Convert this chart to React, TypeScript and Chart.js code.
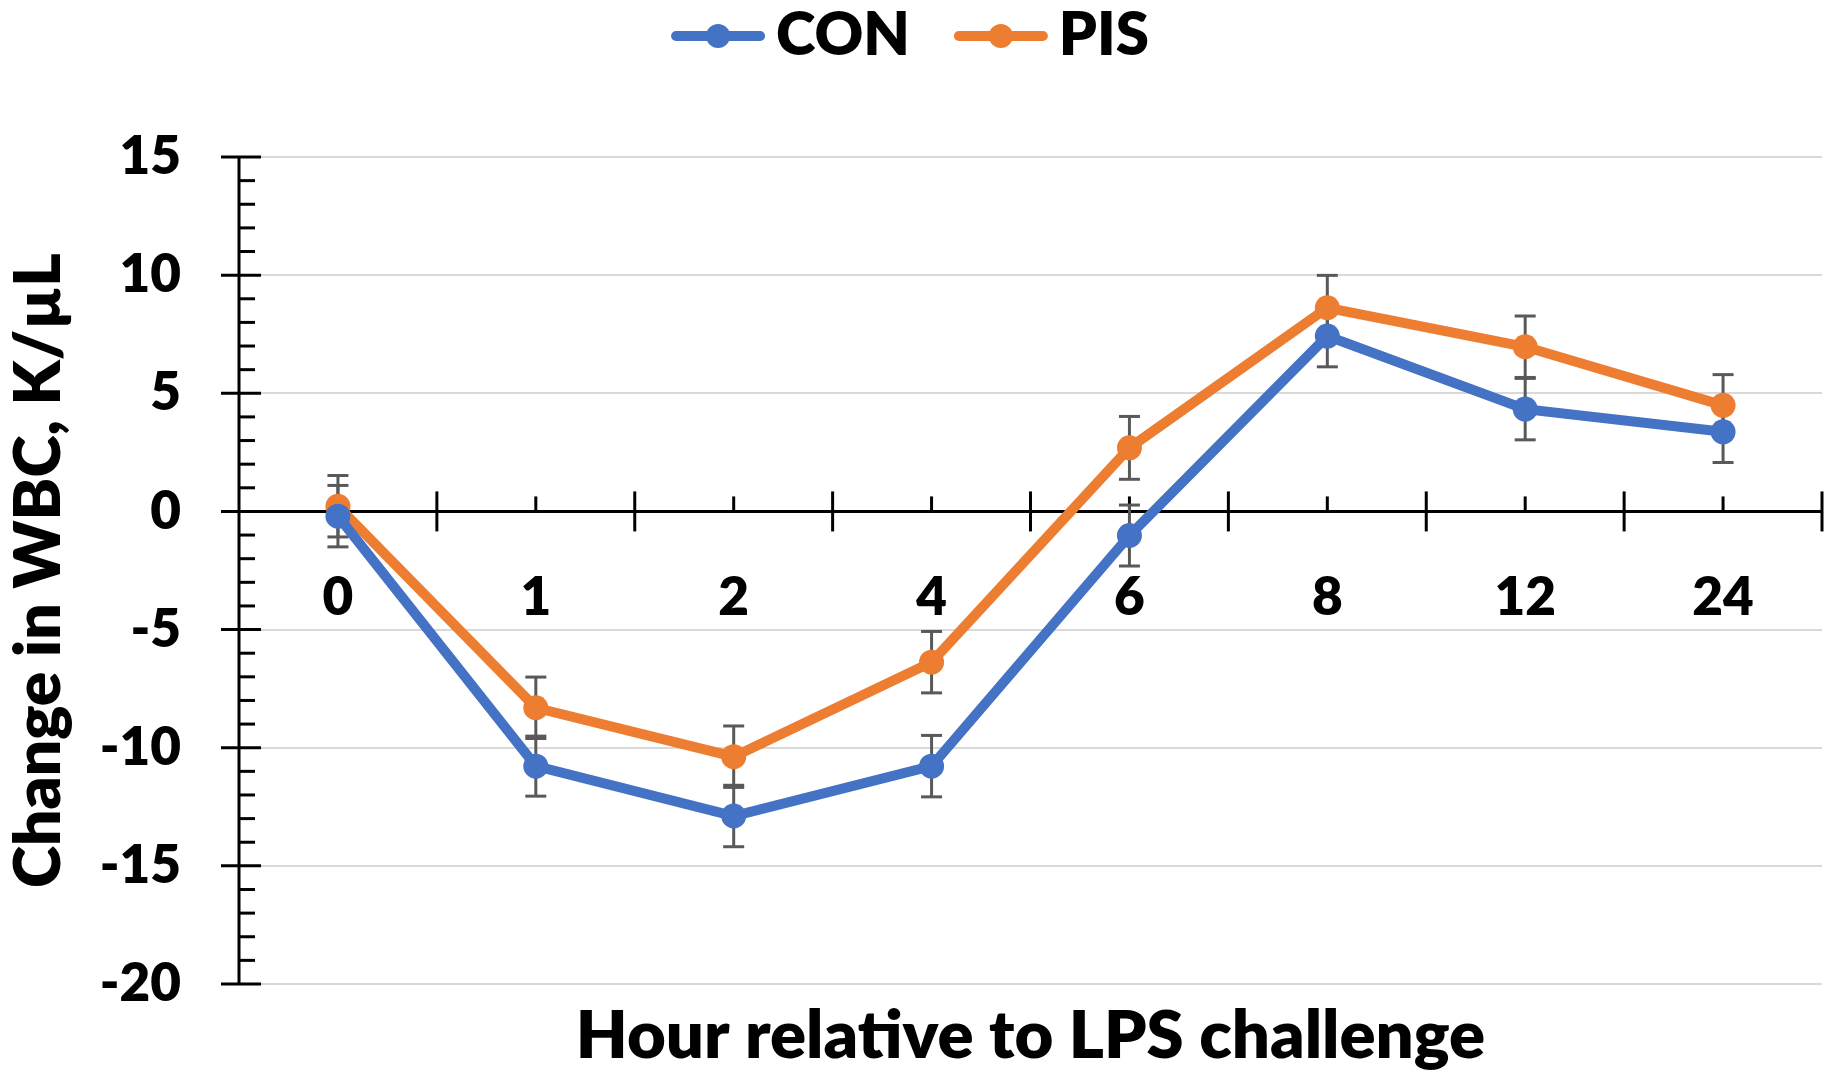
import { useEffect, useRef } from 'react'
import { Chart, registerables } from 'chart.js'

Chart.register(...registerables)

// hours after the LPS challenge
const hours = ['0', '1', '2', '4', '6', '8', '12', '24']

// change in WBC, K/µL
const conValues = [-0.2, -10.78, -12.89, -10.78, -1.02, 7.42, 4.33, 3.37]
const pisValues = [0.22, -8.31, -10.38, -6.38, 2.69, 8.62, 6.97, 4.49]

// SEM
const conErrors = [1.3, 1.27, 1.3, 1.3, 1.29, 1.3, 1.3, 1.3]
const pisErrors = [1.3, 1.3, 1.3, 1.3, 1.33, 1.37, 1.3, 1.3]

const Y_MIN = -20
const Y_MAX = 15

const BLUE = '#4472C4'
const ORANGE = '#ED7D31'
const FONT = 'Lato'
const WEIGHT = '800'

const errors = [conErrors, pisErrors]

// excel style axes: crossing ticks, minor ticks, axis at zero
const axesPlugin = {
  id: 'excelAxes',
  beforeDatasetsDraw(chart: any) {
    const { ctx, chartArea, scales } = chart
    const x = scales.x
    const y = scales.y
    const left = chartArea.left
    const zero = y.getPixelForValue(0)
    const seg = (x1: number, y1: number, x2: number, y2: number) => {
      ctx.beginPath()
      ctx.moveTo(x1, y1)
      ctx.lineTo(x2, y2)
      ctx.stroke()
    }
    ctx.save()
    ctx.strokeStyle = '#000'
    ctx.lineWidth = 3
    seg(left, chartArea.top, left, chartArea.bottom)
    for (let v = Y_MIN; v <= Y_MAX; v++) {
      const py = y.getPixelForValue(v)
      if (v % 5 === 0) seg(left - 18, py, left + 22, py)
      else seg(left, py, left + 16, py)
    }
    seg(left, zero, chartArea.right, zero)
    for (let i = 0; i < hours.length; i++) {
      const bx = x.getPixelForValue(i + 0.5)
      seg(bx, zero - 20, bx, zero + 20)
      const cx = x.getPixelForValue(i)
      seg(cx, zero - 15, cx, zero)
    }

    // error bars
    ctx.strokeStyle = '#595959'
    ctx.lineWidth = 3
    chart.data.datasets.forEach((ds: any, di: number) => {
      ds.data.forEach((v: number, i: number) => {
        const e = errors[di][i]
        const px = x.getPixelForValue(i)
        const top = y.getPixelForValue(v + e)
        const bot = y.getPixelForValue(v - e)
        seg(px, top, px, bot)
        seg(px - 10.5, top, px + 10.5, top)
        seg(px - 10.5, bot, px + 10.5, bot)
      })
    })
    ctx.restore()
  },
  afterDraw(chart: any) {
    const { ctx } = chart
    ctx.save()
    ctx.font = `${WEIGHT} 60px ${FONT}`
    const items = chart.data.datasets.map((ds: any) => ({
      label: ds.label,
      color: ds.borderColor,
      w: ctx.measureText(ds.label).width,
    }))
    const lineLen = 94
    const gapText = 11
    const gapItem = 44
    const total =
      items.reduce((s: number, it: any) => s + lineLen + gapText + it.w, 0) +
      gapItem * (items.length - 1)
    let lx = chart.width / 2 - 9 - total / 2
    const cy = 36
    items.forEach((it: any) => {
      ctx.strokeStyle = it.color
      ctx.lineWidth = 10
      ctx.lineCap = 'round'
      ctx.beginPath()
      ctx.moveTo(lx + 5, cy)
      ctx.lineTo(lx + lineLen - 5, cy)
      ctx.stroke()
      ctx.fillStyle = it.color
      ctx.beginPath()
      ctx.arc(lx + lineLen / 2, cy, 12, 0, Math.PI * 2)
      ctx.fill()
      ctx.fillStyle = '#000'
      ctx.textAlign = 'left'
      ctx.textBaseline = 'middle'
      ctx.fillText(it.label, lx + lineLen + gapText, cy)
      lx += lineLen + gapText + it.w + gapItem
    })
    ctx.restore()
  },
}

export default function App() {
  const canvasRef = useRef<HTMLCanvasElement>(null)

  useEffect(() => {
    document.body.style.margin = '0'
    if (!canvasRef.current) return

    const chart = new Chart(canvasRef.current, {
      type: 'line',
      data: {
        labels: hours,
        datasets: [
          {
            label: 'CON',
            data: conValues,
            borderColor: BLUE,
            backgroundColor: BLUE,
            borderWidth: 10,
            pointRadius: 12.5,
            pointBorderWidth: 0,
            pointBackgroundColor: BLUE,
            tension: 0,
          },
          {
            label: 'PIS',
            data: pisValues,
            borderColor: ORANGE,
            backgroundColor: ORANGE,
            borderWidth: 10,
            pointRadius: 12.5,
            pointBorderWidth: 0,
            pointBackgroundColor: ORANGE,
            tension: 0,
          },
        ],
      },
      options: {
        responsive: false,
        devicePixelRatio: 1,
        animation: false,
        layout: { padding: { top: 157, right: 16, bottom: 0, left: 0 } },
        plugins: {
          legend: { display: false },
          tooltip: { enabled: false },
          title: {
            display: true,
            position: 'bottom',
            fullSize: false,
            text: 'Hour relative to LPS challenge',
            color: '#000',
            font: { family: FONT, size: 67, weight: WEIGHT, lineHeight: 1.2 },
            padding: { top: 12, bottom: 9.6 },
          },
        },
        scales: {
          x: {
            type: 'category',
            position: { y: 0 },
            offset: true,
            grid: { display: false, drawTicks: false },
            border: { display: false },
            ticks: {
              color: '#000',
              padding: 55,
              maxRotation: 0,
              font: { family: FONT, size: 53, weight: WEIGHT },
            },
          },
          y: {
            min: Y_MIN,
            max: Y_MAX,
            afterFit(scale: any) {
              scale.width = 239
            },
            grid: { color: '#d9d9d9', lineWidth: 2, drawTicks: false },
            border: { display: false },
            ticks: {
              stepSize: 5,
              color: '#000',
              padding: 58,
              font: { family: FONT, size: 53, weight: WEIGHT },
            },
            title: {
              display: true,
              text: 'Change in WBC, K/µL',
              color: '#000',
              font: { family: FONT, size: 64, weight: WEIGHT, lineHeight: 1.2 },
              padding: { top: 1, bottom: 0 },
            },
          },
        },
      },
      plugins: [axesPlugin],
    })

    return () => {
      chart.destroy()
    }
  }, [])

  return <canvas ref={canvasRef} width={1838} height={1086} />
}
